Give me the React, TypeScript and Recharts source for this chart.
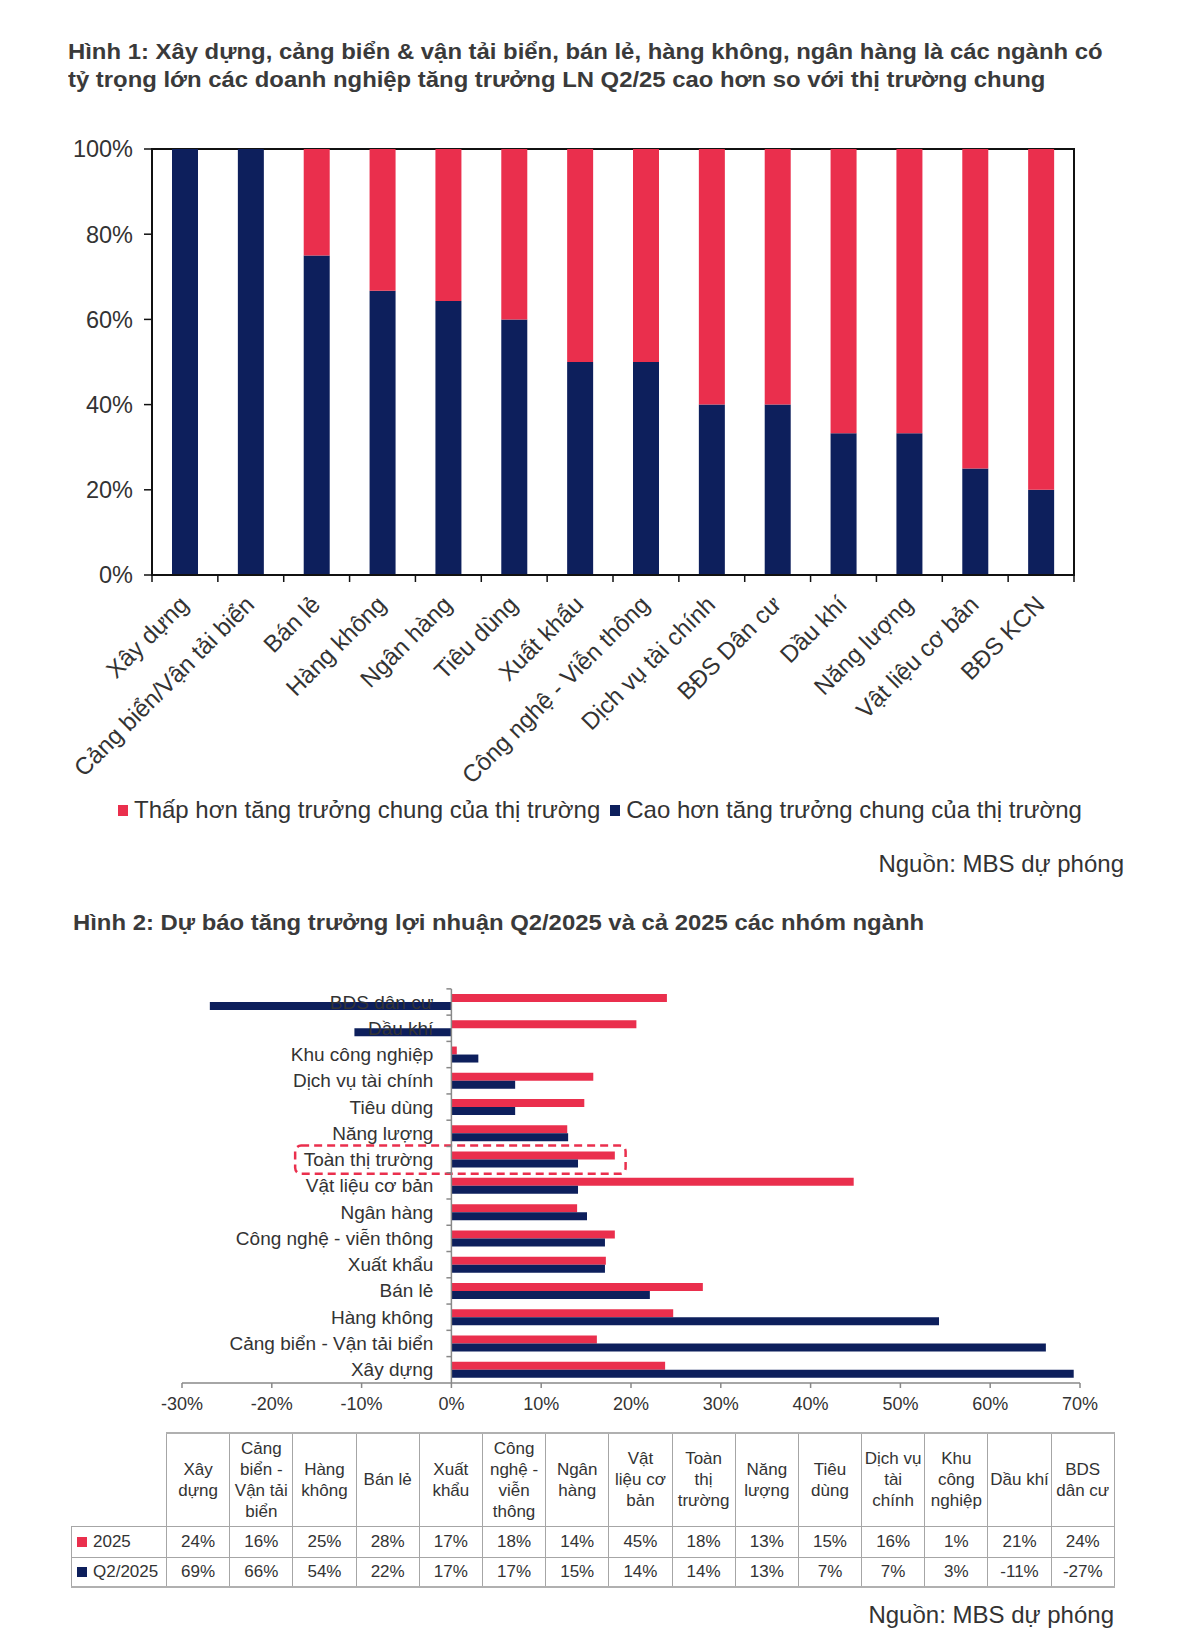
import React from 'react';
import { BarChart, Bar, XAxis, YAxis, ReferenceLine, ReferenceArea, LabelList } from 'recharts';

const FONT = '"Liberation Sans", Arial, sans-serif';
const NAVY = '#0d1f5c';
const RED = '#ea2f4d';
const TEXT = '#333333';

// ---------- Figure 1 data ----------
const title1a = 'Hình 1: Xây dựng, cảng biển & vận tải biển, bán lẻ, hàng không, ngân hàng là các ngành có';
const title1b = 'tỷ trọng lớn các doanh nghiệp tăng trưởng LN Q2/25 cao hơn so với thị trường chung';
const sectors1 = [
  'Xây dựng', 'Cảng biển/Vận tải biển', 'Bán lẻ', 'Hàng không', 'Ngân hàng', 'Tiêu dùng', 'Xuất khẩu',
  'Công nghệ - Viễn thông', 'Dịch vụ tài chính', 'BĐS Dân cư', 'Dầu khí', 'Năng lượng', 'Vật liệu cơ bản', 'BĐS KCN',
];
const higherShare = [100, 100, 75, 66.7, 64.3, 60, 50, 50, 40, 40, 33.3, 33.3, 25, 20];
const lowerShare = [0, 0, 25, 33.3, 35.7, 40, 50, 50, 60, 60, 66.7, 66.7, 75, 80];
const yTicks1 = [0, 20, 40, 60, 80, 100];
const legendLower = 'Thấp hơn tăng trưởng chung của thị trường';
const legendHigher = 'Cao hơn tăng trưởng chung của thị trường';
const sourceText = 'Nguồn: MBS dự phóng';

// ---------- Figure 2 data ----------
const title2 = 'Hình 2: Dự báo tăng trưởng lợi nhuận Q2/2025 và cả 2025 các nhóm ngành';
const sectors2 = [
  'BĐS dân cư', 'Dầu khí', 'Khu công nghiệp', 'Dịch vụ tài chính', 'Tiêu dùng', 'Năng lượng', 'Toàn thị trường',
  'Vật liệu cơ bản', 'Ngân hàng', 'Công nghệ - viễn thông', 'Xuất khẩu', 'Bán lẻ', 'Hàng không',
  'Cảng biển - Vận tải biển', 'Xây dựng',
];
const growth2025 = [24.0, 20.6, 0.6, 15.8, 14.8, 12.9, 18.2, 44.8, 14.0, 18.2, 17.2, 28.0, 24.7, 16.2, 23.8];
const growthQ2 = [-26.9, -10.8, 3.0, 7.1, 7.1, 13.0, 14.1, 14.1, 15.1, 17.1, 17.1, 22.1, 54.3, 66.2, 69.3];
const xTicks2 = [-30, -20, -10, 0, 10, 20, 30, 40, 50, 60, 70];
const highlightSector = 'Toàn thị trường';
const highlightFrom = -17.4;
const highlightTo = 19.4;

// ---------- Table data ----------
const tableHeaders = [
  'Xây\ndựng', 'Cảng\nbiển -\nVận tải\nbiển', 'Hàng\nkhông', 'Bán lẻ', 'Xuất\nkhẩu', 'Công\nnghệ -\nviễn\nthông',
  'Ngân\nhàng', 'Vật\nliệu cơ\nbản', 'Toàn\nthị\ntrường', 'Năng\nlượng', 'Tiêu\ndùng', 'Dịch vụ\ntài\nchính',
  'Khu\ncông\nnghiệp', 'Dầu khí', 'BDS\ndân cư',
];
const table2025 = ['24%', '16%', '25%', '28%', '17%', '18%', '14%', '45%', '18%', '13%', '15%', '16%', '1%', '21%', '24%'];
const tableQ2 = ['69%', '66%', '54%', '22%', '17%', '17%', '15%', '14%', '14%', '13%', '7%', '7%', '3%', '-11%', '-27%'];
const rowLabels = ['2025', 'Q2/2025'];

// ---------- layout constants ----------
const C1_W = 1179;
const C1_H = 790;
const C1_M = { top: 149, right: 105, left: 92, bottom: 0 };
const C1_YAXIS_W = 60;
const C1_PLOT_H = 426;
const C1_PLOT_W = C1_W - C1_M.left - C1_M.right - C1_YAXIS_W;
const C1_BAND = C1_PLOT_W / sectors1.length;

const C2_TOP = 960;
const C2_W = 1179;
const C2_H = 470;
const C2_M = { top: 29, right: 99, left: 182, bottom: 7 };
const C2_XAXIS_H = 40;
const C2_PLOT_H = C2_H - C2_M.top - C2_M.bottom - C2_XAXIS_H;
const C2_BAND = C2_PLOT_H / sectors2.length;

const data1 = sectors1.map((name, i) => ({ name, higher: higherShare[i], lower: lowerShare[i] }));
const data2 = sectors2.map((name, i) => ({ name, y2025: growth2025[i], q2: growthQ2[i] }));

const SlantTick = (props: any) => {
  const { x, y, payload, index } = props;
  const half = C1_BAND / 2;
  const ax = x + 5;
  const ay = y + 31;
  return (
    <g>
      <line x1={x - half} y1={y} x2={x - half} y2={y + 7} stroke="#111" strokeWidth={1.5} />
      {index === sectors1.length - 1 && (
        <line x1={x + half} y1={y} x2={x + half} y2={y + 7} stroke="#111" strokeWidth={1.5} />
      )}
      <text
        x={ax}
        y={ay}
        transform={`rotate(-45 ${ax} ${ay})`}
        textAnchor="end"
        fontSize={24}
        fontFamily={FONT}
        fill={TEXT}
      >
        {payload.value}
      </text>
    </g>
  );
};

const SectorLabel = (props: any) => {
  const vb = props.viewBox && props.viewBox.x !== undefined ? props.viewBox : props;
  const { x, y, height } = vb;
  const cy = y + height;
  const tickY = cy - C2_BAND / 2;
  return (
    <g>
      <line x1={x - 5} y1={tickY} x2={x} y2={tickY} stroke="#888" strokeWidth={1.5} />
      <text
        x={x - 18}
        y={cy}
        textAnchor="end"
        dominantBaseline="central"
        fontSize={19}
        fontFamily={FONT}
        fill={TEXT}
      >
        {props.value}
      </text>
    </g>
  );
};

const DashedBox = (props: any) => {
  const { x, y, width, height } = props;
  return (
    <rect
      x={x}
      y={y - 1}
      width={width}
      height={height + 2}
      rx={6}
      ry={6}
      fill="none"
      stroke={RED}
      strokeWidth={2.5}
      strokeDasharray="8 5"
    />
  );
};

const LegendSwatch = ({ color }: { color: string }) => (
  <span style={{ display: 'inline-block', width: 10, height: 11, background: color, marginRight: 6 }} />
);

const cellBorder = '1px solid #a6a6a6';
const titleStyle: React.CSSProperties = {
  position: 'absolute',
  fontSize: 22,
  fontWeight: 'bold',
  lineHeight: '28px',
  whiteSpace: 'nowrap',
  color: '#3a3a3a',
  transform: 'scaleX(1.085)',
  transformOrigin: 'left top',
};

export default function App() {
  return (
    <div
      style={{
        position: 'absolute',
        left: 0,
        top: 0,
        width: 1179,
        height: 1636,
        background: '#fff',
        fontFamily: FONT,
        color: TEXT,
        overflow: 'hidden',
      }}
    >
      {/* Title 1 */}
      <div style={{ ...titleStyle, left: 68, top: 38 }}>
        <div>{title1a}</div>
        <div>{title1b}</div>
      </div>

      {/* Chart 1 */}
      <div style={{ position: 'absolute', left: 0, top: 0 }}>
        <BarChart width={C1_W} height={C1_H} data={data1} margin={C1_M} barSize={26}>
          <ReferenceArea
            x1={sectors1[0]}
            x2={sectors1[sectors1.length - 1]}
            y1={0}
            y2={100}
            fill="none"
            stroke="#111"
            strokeWidth={2}
            fillOpacity={0}
          />
          <XAxis
            dataKey="name"
            interval={0}
            height={C1_H - C1_M.top - C1_M.bottom - C1_PLOT_H}
            tick={<SlantTick />}
            tickLine={false}
            tickSize={0}
            tickMargin={0}
            axisLine={{ stroke: '#111', strokeWidth: 2 }}
          />
          <YAxis
            type="number"
            domain={[0, 100]}
            ticks={yTicks1}
            width={C1_YAXIS_W}
            tickFormatter={(v: number) => `${v}%`}
            tick={{ fontSize: 23.5, fontFamily: FONT, fill: TEXT }}
            tickSize={8}
            tickMargin={11}
            tickLine={{ stroke: '#111', strokeWidth: 1.5 }}
            axisLine={{ stroke: '#111', strokeWidth: 2 }}
          />
          <Bar dataKey="higher" stackId="s" fill={NAVY} isAnimationActive={false} />
          <Bar dataKey="lower" stackId="s" fill={RED} isAnimationActive={false} />
        </BarChart>
      </div>

      {/* Legend 1 */}
      <div style={{ position: 'absolute', left: 118, top: 795, fontSize: 24, whiteSpace: 'pre', display: 'flex', alignItems: 'center', lineHeight: '30px' }}>
        <LegendSwatch color={RED} />
        <span>{legendLower}</span>
        <span style={{ display: 'inline-block', width: 10 }} />
        <LegendSwatch color={NAVY} />
        <span>{legendHigher}</span>
      </div>

      <div style={{ position: 'absolute', right: 1179 - 1124, top: 849, fontSize: 24, whiteSpace: 'nowrap', lineHeight: '30px' }}>
        {sourceText}
      </div>

      {/* Title 2 */}
      <div style={{ ...titleStyle, left: 73, top: 909 }}>{title2}</div>

      {/* Chart 2 */}
      <div style={{ position: 'absolute', left: 0, top: C2_TOP }}>
        <BarChart width={C2_W} height={C2_H} data={data2} layout="vertical" margin={C2_M} barGap={0}>
          <XAxis
            type="number"
            domain={[-30, 70]}
            ticks={xTicks2}
            height={C2_XAXIS_H}
            tickFormatter={(v: number) => `${v}%`}
            tick={{ fontSize: 18, fontFamily: FONT, fill: TEXT }}
            tickSize={5}
            tickMargin={9}
            tickLine={{ stroke: '#888', strokeWidth: 1.5 }}
            axisLine={{ stroke: '#888', strokeWidth: 1.5 }}
          />
          <YAxis type="category" dataKey="name" hide />
          <ReferenceLine x={0} stroke="#888" strokeWidth={1.5} />
          <Bar dataKey="y2025" fill={RED} barSize={8} isAnimationActive={false}>
            <LabelList dataKey="name" content={<SectorLabel />} />
          </Bar>
          <Bar dataKey="q2" fill={NAVY} barSize={8} isAnimationActive={false} />
          <ReferenceArea
            y1={highlightSector}
            y2={highlightSector}
            x1={highlightFrom}
            x2={highlightTo}
            shape={<DashedBox />}
          />
        </BarChart>
      </div>

      {/* Table */}
      <table
        style={{
          position: 'absolute',
          left: 71,
          top: 1432,
          width: 1043,
          borderCollapse: 'collapse',
          tableLayout: 'fixed',
          fontSize: 17,
          color: TEXT,
          fontFamily: FONT,
        }}
      >
        <colgroup>
          <col style={{ width: 95 }} />
          {tableHeaders.map((_, i) => (
            <col key={i} style={{ width: 63.2 }} />
          ))}
        </colgroup>
        <tbody>
          <tr style={{ height: 93 }}>
            <td style={{ borderBottom: cellBorder, padding: 0 }} />
            {tableHeaders.map((h, i) => (
              <td
                key={i}
                style={{
                  border: cellBorder,
                  borderTop: '2px solid #b0b0b0',
                  textAlign: 'center',
                  verticalAlign: 'middle',
                  whiteSpace: 'pre',
                  lineHeight: '21px',
                  padding: 0,
                }}
              >
                {h}
              </td>
            ))}
          </tr>
          {[table2025, tableQ2].map((row, r) => (
            <tr key={r} style={{ height: r === 0 ? 31 : 30 }}>
              <td
                style={{
                  border: cellBorder,
                  borderBottom: r === 1 ? '2px solid #b0b0b0' : cellBorder,
                  padding: '0 0 0 5px',
                  whiteSpace: 'nowrap',
                }}
              >
                <span style={{ display: 'inline-flex', alignItems: 'center' }}>
                  <span style={{ display: 'inline-block', width: 10, height: 10, background: r === 0 ? RED : NAVY, marginRight: 6 }} />
                  {rowLabels[r]}
                </span>
              </td>
              {row.map((v, i) => (
                <td
                  key={i}
                  style={{
                    border: cellBorder,
                    borderBottom: r === 1 ? '2px solid #b0b0b0' : cellBorder,
                    textAlign: 'center',
                    padding: 0,
                  }}
                >
                  {v}
                </td>
              ))}
            </tr>
          ))}
        </tbody>
      </table>

      <div style={{ position: 'absolute', right: 1179 - 1114, top: 1600, fontSize: 24, whiteSpace: 'nowrap', lineHeight: '30px' }}>
        {sourceText}
      </div>
    </div>
  );
}
